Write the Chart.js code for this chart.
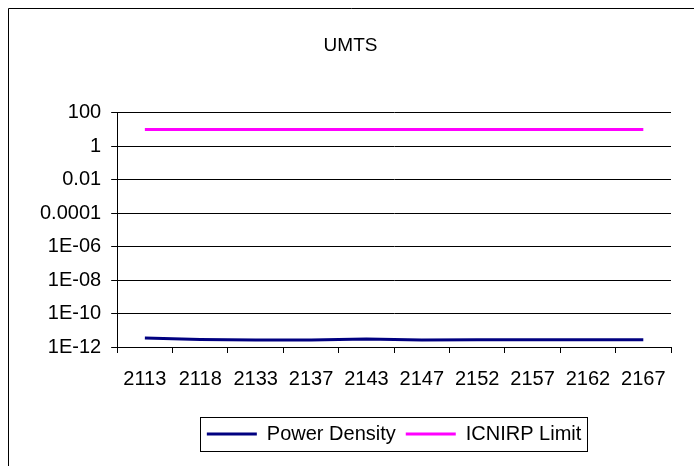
<!DOCTYPE html>
<html>
<head>
<meta charset="utf-8">
<script src="https://cdn.jsdelivr.net/npm/chart.js@4/dist/chart.umd.min.js"></script>
<style>
  body { margin: 0; background: #fff; }
  #wrap { width: 694px; height: 466px; }
</style>
</head>
<body>
<div id="wrap"><canvas id="umts" width="694" height="466"></canvas></div>
<script>
// frequencies (MHz)
const categories = ['2113', '2118', '2133', '2137', '2143', '2147', '2152', '2157', '2162', '2167'];
const powerDensity = [3.5e-12, 2.8e-12, 2.6e-12, 2.6e-12, 3.0e-12, 2.6e-12, 2.7e-12, 2.7e-12, 2.7e-12, 2.7e-12];
// ICNIRP reference level
const icnirpLimit = [10, 10, 10, 10, 10, 10, 10, 10, 10, 10];
// y axis ticks and their labels
const yTicks = [1e-12, 1e-10, 1e-8, 1e-6, 1e-4, 0.01, 1, 100];
const yTickLabels = ['1E-12', '1E-10', '1E-08', '1E-06', '0.0001', '0.01', '1', '100'];

const FONT = "'Liberation Sans', Arial, sans-serif";

// frame of the chart + box round the legend
const framePlugin = {
  id: 'frame',
  afterDraw(chart) {
    const ctx = chart.ctx;
    ctx.save();
    ctx.strokeStyle = '#000';
    ctx.lineWidth = 1;
    ctx.beginPath();
    ctx.moveTo(8.5, 466);
    ctx.lineTo(8.5, 8.5);
    ctx.lineTo(694, 8.5);
    ctx.stroke();

    const boxes = chart.legend.legendHitBoxes;
    if (boxes && boxes.length) {
      const first = boxes[0], last = boxes[boxes.length - 1];
      const l = Math.round(first.left) - 6.5;
      const r = Math.round(last.left + last.width) + 6.5;
      const mid = first.top + first.height / 2;
      const t = Math.round(mid - 17) + 0.5;
      const b = Math.round(mid + 17) + 0.5;
      ctx.strokeRect(l, t, r - l, b - t);
    }
    ctx.restore();
  }
};

new Chart(document.getElementById('umts').getContext('2d'), {
  type: 'line',
  data: {
    labels: categories,
    datasets: [{
      label: 'Power Density',
      data: powerDensity,
      borderColor: '#000080',
      backgroundColor: '#000080',
      borderWidth: 3,
      pointRadius: 0,
      tension: 0
    }, {
      label: 'ICNIRP Limit',
      data: icnirpLimit,
      borderColor: '#FF00FF',
      backgroundColor: '#FF00FF',
      borderWidth: 3,
      pointRadius: 0,
      tension: 0
    }]
  },
  options: {
    responsive: false,
    animation: false,
    layout: { padding: { left: 30, right: 23, top: 0, bottom: 12 } },
    plugins: {
      title: {
        display: true,
        text: 'UMTS',
        color: '#000',
        font: { family: FONT, size: 19, weight: 'normal' },
        padding: { top: 34, bottom: 56 }
      },
      legend: {
        position: 'bottom',
        fullSize: false,
        labels: {
          color: '#000',
          font: { family: FONT, size: 20 },
          usePointStyle: true,
          pointStyle: 'line',
          pointStyleWidth: 50,
          padding: 10
        }
      },
      tooltip: { enabled: false }
    },
    scales: {
      x: {
        type: 'category',
        offset: true,
        grid: {
          offset: true,
          drawOnChartArea: false,
          drawTicks: true,
          tickLength: 6,
          color: '#000'
        },
        border: { color: '#000', width: 1 },
        ticks: {
          color: '#000',
          font: { family: FONT, size: 20 },
          padding: 14,
          maxRotation: 0,
          autoSkip: false
        },
        afterFit(scale) { scale.height += 9; }
      },
      y: {
        type: 'logarithmic',
        min: 1e-12,
        max: 100,
        afterBuildTicks(scale) {
          scale.ticks = yTicks.map(v => ({ value: v }));
        },
        grid: {
          color: '#000',
          drawTicks: true,
          tickLength: 6
        },
        border: { color: '#000', width: 1 },
        ticks: {
          color: '#000',
          font: { family: FONT, size: 20 },
          padding: 10,
          autoSkip: false,
          callback(value) {
            const i = yTicks.findIndex(t => Math.abs(Math.log10(t) - Math.log10(value)) < 1e-6);
            return i >= 0 ? yTickLabels[i] : '';
          }
        }
      }
    }
  },
  plugins: [framePlugin]
});
</script>
</body>
</html>
